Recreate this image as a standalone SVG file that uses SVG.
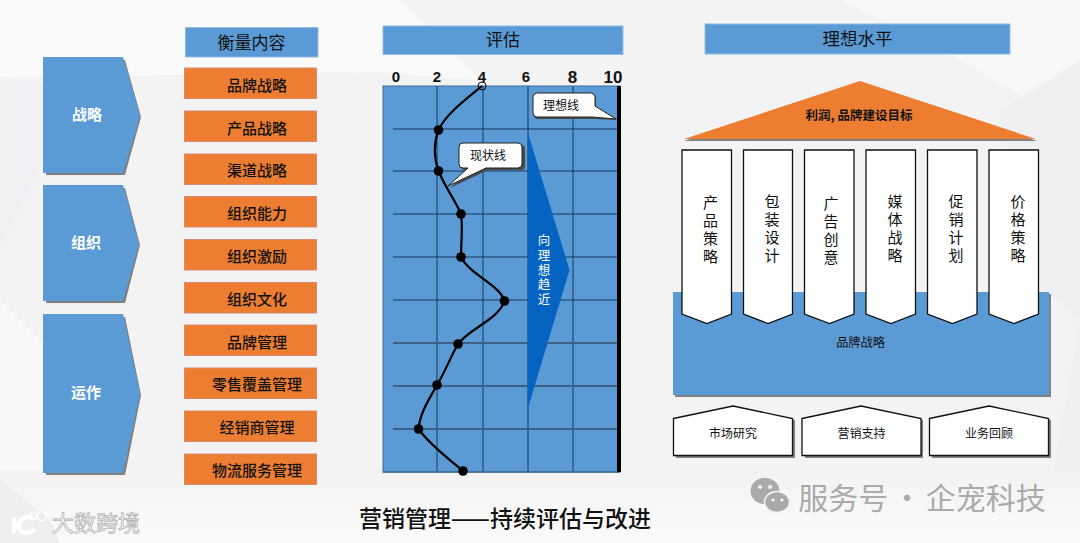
<svg xmlns="http://www.w3.org/2000/svg" width="1080" height="543" viewBox="0 0 1080 543">
<style>
text{font-family:"Noto Sans CJK SC","Liberation Sans",sans-serif;text-anchor:middle;fill:#111}
.hd{fill:#5b9bd5;stroke:#8fbce4;stroke-width:1}
.or{fill:#ed7d31;stroke:#d98a70;stroke-width:1}
.bl{fill:#5b9bd5}
.sh{fill:#808080}
.wh{fill:#fff;stroke:#111;stroke-width:1.3}
.grid{stroke:#17365d;stroke-width:1;fill:none}
.grid2{stroke:#3c6288;stroke-width:1.8;fill:none}
.t15{font-size:15px;font-weight:500}
.t12{font-size:12px}
.ax{font-family:"Liberation Sans",sans-serif;font-weight:700;font-size:15px}
.dot{fill:#000}
.vt{writing-mode:vertical-rl;text-orientation:upright;font-size:15px;letter-spacing:3px}
</style>
<defs><linearGradient id="band" x1="0" y1="0" x2="0" y2="1"><stop offset="0" stop-color="#f3f3f4"/><stop offset="1" stop-color="#fafafa"/></linearGradient></defs>
<rect width="1080" height="543" fill="#f3f3f4"/>
<g id="background">
<polygon points="0,0 400,0 480,80 380,72 0,77" fill="#fafafa"/>
<polygon points="0,77 80,90 0,250" fill="#f1f1f3"/>
<polygon points="840,0 1080,0 1080,130 960,60" fill="#f7f7f8"/>
<polygon points="1000,110 1080,60 1080,540 1040,540 1080,320 1020,270" fill="#f0f0f2"/>
<polygon points="0,300 120,420 60,530 0,530" fill="#f8f8f9"/>
<rect x="0" y="470" width="1080" height="73" fill="url(#band)"/>
<polygon points="0,480 50,520 60,543 0,543" fill="#eeeeef"/>
</g>
<g id="connectors"></g>
<g id="n-strategy"><polygon class="sh" points="46,60 125,60 141,117 125,175 46,175"/><polygon class="bl" points="43,57 123,57 140,116 123,173 43,173"/><text x="87" y="120" style="font-size:15px;font-weight:700;fill:#fff">战略</text></g>
<g id="n-org"><polygon class="sh" points="46,188 125,188 140,245 125,303 46,303"/><polygon class="bl" points="43,185 123,185 139,244 123,301 43,301"/><text x="86" y="248" style="font-size:15px;font-weight:700;fill:#fff">组织</text></g>
<g id="n-ops"><polygon class="sh" points="46,317 125,317 141,395 125,475 46,475"/><polygon class="bl" points="43,314 123,314 140,394 123,473 43,473"/><text x="86" y="398" style="font-size:15px;font-weight:700;fill:#fff">运作</text></g>
<g id="h-measure"><rect class="hd" x="185.500" y="27.500" width="132.500" height="29.500"/><text x="251.500" y="48.500" style="font-size:17px">衡量内容</text></g>
<g id="m1"><rect class="or" x="184.500" y="68" width="132" height="30.500"/><text x="257" y="90.500" class="t15">品牌战略</text></g>
<g id="m2"><rect class="or" x="184.500" y="111" width="132" height="30.500"/><text x="257" y="133.500" class="t15">产品战略</text></g>
<g id="m3"><rect class="or" x="184.500" y="154" width="132" height="30.500"/><text x="257" y="175.500" class="t15">渠道战略</text></g>
<g id="m4"><rect class="or" x="184.500" y="196.500" width="132" height="30.500"/><text x="257" y="219" class="t15">组织能力</text></g>
<g id="m5"><rect class="or" x="184.500" y="239.500" width="132" height="30.500"/><text x="257" y="261.500" class="t15">组织激励</text></g>
<g id="m6"><rect class="or" x="184.500" y="282.500" width="132" height="30.500"/><text x="257" y="304.500" class="t15">组织文化</text></g>
<g id="m7"><rect class="or" x="184.500" y="325" width="132" height="30.500"/><text x="257" y="347.500" class="t15">品牌管理</text></g>
<g id="m8"><rect class="or" x="184.500" y="368" width="132" height="30.500"/><text x="257" y="390" class="t15">零售覆盖管理</text></g>
<g id="m9"><rect class="or" x="184.500" y="411" width="132" height="30.500"/><text x="257" y="433" class="t15">经销商管理</text></g>
<g id="m10"><rect class="or" x="184.500" y="454" width="132" height="30.500"/><text x="257" y="476" class="t15">物流服务管理</text></g>
<g id="h-eval"><rect class="hd" x="383" y="26" width="240" height="28.500"/><text x="503" y="46" style="font-size:17px">评估</text></g>
<g id="chart">
<rect x="383" y="86" width="237" height="386" fill="#5b9bd5" stroke="#3f6c96" stroke-width="1"/>
<path class="grid" d="M437,86V472M483,86V472M528,86V472M573,86V472M393,129H618M393,171H618M393,214H618M393,257H618M393,300H618"/>
<path class="grid2" d="M393,343H618M393,386H618M393,429H618"/>
<path d="M383,472H620" stroke="#3f6c96" stroke-width="1.500"/>
<rect x="617" y="86" width="4" height="386" fill="#000"/>
<text class="ax" x="396" y="82">0</text><text class="ax" x="437" y="82">2</text><text class="ax" x="482" y="82">4</text><text class="ax" x="526" y="82">6</text><text class="ax" x="572.500" y="83" style="font-size:17px">8</text><text class="ax" x="613" y="83" style="font-size:17px">10</text>
</g>
<g id="arrow-ideal"><polygon points="528,133 569.500,270 528,408" fill="#0563c1"/><text class="vt" x="544" y="271" style="fill:#fff;font-size:12.500px;letter-spacing:2.200px">向理想趋近</text></g>
<g id="curve">
<path d="M482,86C465,100 445,115 438.500,130C433,145 434,158 438.500,171C445,187 455,200 461,214C463,228 461,242 461,257C470,275 500,285 504.500,301C498,320 470,328 458,344C450,358 445,372 437,385C430,398 420,412 418.500,429C430,445 450,460 463,471" fill="none" stroke="#000" stroke-width="2.200"/>
<circle cx="482" cy="86" r="4" fill="none" stroke="#000" stroke-width="1"/>
<circle class="dot" cx="438.500" cy="130" r="4.800"/><circle class="dot" cx="438.500" cy="171" r="4.800"/><circle class="dot" cx="461" cy="214" r="4.800"/><circle class="dot" cx="461" cy="257" r="4.800"/><circle class="dot" cx="504.500" cy="301" r="4.800"/><circle class="dot" cx="458" cy="344" r="4.800"/><circle class="dot" cx="437" cy="385" r="4.800"/><circle class="dot" cx="418.500" cy="429" r="4.800"/><circle class="dot" cx="463" cy="471" r="4.800"/>
</g>
<g id="callout-ideal">
<path d="M538,95H592a4,4 0 0 1 4,4V108L618,120L595,119H538a4,4 0 0 1 -4,-4V99a4,4 0 0 1 4,-4Z" fill="#4a4a4a"/>
<path d="M537,93H591a4,4 0 0 1 4,4V106L616,119L592,117H537a4,4 0 0 1 -4,-4V97a4,4 0 0 1 4,-4Z" fill="#fff" stroke="#222" stroke-width="1"/>
<text x="561" y="110" class="t12">理想线</text></g>
<g id="callout-now">
<path d="M465,145H521a4,4 0 0 1 4,4V166a4,4 0 0 1 -4,4H488L450,188L470,170H465a4,4 0 0 1 -4,-4V149a4,4 0 0 1 4,-4Z" fill="#4a4a4a"/>
<path d="M463,143H518a4,4 0 0 1 4,4V164a4,4 0 0 1 -4,4H486L448,186L468,168H463a4,4 0 0 1 -4,-4V147a4,4 0 0 1 4,-4Z" fill="#fff" stroke="#222" stroke-width="1"/>
<text x="488" y="160" class="t12">现状线</text></g>
<g id="h-ideal"><rect class="hd" x="705" y="24" width="305" height="30"/><text x="857.500" y="45" style="font-size:17.500px">理想水平</text></g>
<g id="roof"><polygon class="sh" points="860,83 1037,141 684,141"/><polygon points="860,81 1036,139 684,139" fill="#ed7d31"/><text x="859" y="120" style="font-size:12.500px;font-weight:700">利润, 品牌建设目标</text></g>
<g id="base"><rect class="sh" x="675" y="294" width="376" height="103"/><rect class="bl" x="673" y="292" width="376" height="103"/><text x="860.500" y="347" style="font-size:12.200px">品牌战略</text></g>
<g id="p1"><polygon class="wh" points="682,150 731.500,150 731.500,314 707,323.500 682,314"/><text class="vt" x="710.500" y="231">产品策略</text></g>
<g id="p2"><polygon class="wh" points="743.500,150 792.500,150 792.500,314 768,323.500 743.500,314"/><text class="vt" x="772" y="230">包装设计</text></g>
<g id="p3"><polygon class="wh" points="804.500,150 854,150 854,314 829.500,323.500 804.500,314"/><text class="vt" x="831" y="232">广告创意</text></g>
<g id="p4"><polygon class="wh" points="866,150 915.500,150 915.500,314 891,323.500 866,314"/><text class="vt" x="895" y="230">媒体战略</text></g>
<g id="p5"><polygon class="wh" points="927.500,150 977,150 977,314 952.500,323.500 927.500,314"/><text class="vt" x="956" y="230">促销计划</text></g>
<g id="p6"><polygon class="wh" points="989,150 1038.500,150 1038.500,314 1014,323.500 989,314"/><text class="vt" x="1018" y="230">价格策略</text></g>
<g id="b1"><polygon class="sh" points="676,420 734,408 795,420 795,458 676,458"/><polygon class="wh" points="673.500,418.500 733,406 792.500,418.500 792.500,455.500 673.500,455.500"/><text x="733" y="438" class="t12">市场研究</text></g>
<g id="b2"><polygon class="sh" points="805,420 862,408 923,420 923,458 805,458"/><polygon class="wh" points="802,418.500 861,406 921,418.500 921,455.500 802,455.500"/><text x="861.500" y="438" class="t12">营销支持</text></g>
<g id="b3"><polygon class="sh" points="932,420 991,408 1051,420 1051,458 932,458"/><polygon class="wh" points="929.500,418.500 989,406 1048.500,418.500 1048.500,455.500 929.500,455.500"/><text x="989" y="438" class="t12">业务回顾</text></g>
<g id="title"><text x="505" y="527" style="font-size:23px;font-weight:500">营销管理——持续评估与改进</text></g>
<g id="watermark">
<ellipse cx="765" cy="491" rx="14.500" ry="13" fill="#aaa"/><ellipse cx="777" cy="502" rx="12.500" ry="10.500" fill="#aaa" stroke="#f4f4f5" stroke-width="1.500"/>
<circle cx="760" cy="487" r="2" fill="#f4f4f5"/><circle cx="770" cy="487" r="2" fill="#f4f4f5"/><circle cx="773" cy="500" r="1.600" fill="#f4f4f5"/><circle cx="782" cy="500" r="1.600" fill="#f4f4f5"/>
<text x="922" y="509" style="font-size:30px;fill:#aaa;word-spacing:-3px">服务号 · 企宠科技</text>
</g>
<g id="logo">
<text x="96" y="531" style="font-size:22px;fill:#fff;stroke:#b5b5b5;stroke-width:.8">大数跨境</text>
<path d="M14,517V533M33,518C23,514 17,522 19,528C22,535 30,534 35,529" fill="none" stroke="#fff" stroke-width="4.500"/>
<circle cx="33" cy="516" r="3.500" fill="none" stroke="#fff" stroke-width="1.500"/><circle cx="42" cy="516" r="4.500" fill="none" stroke="#fff" stroke-width="1.500"/>
</g>
</svg>
